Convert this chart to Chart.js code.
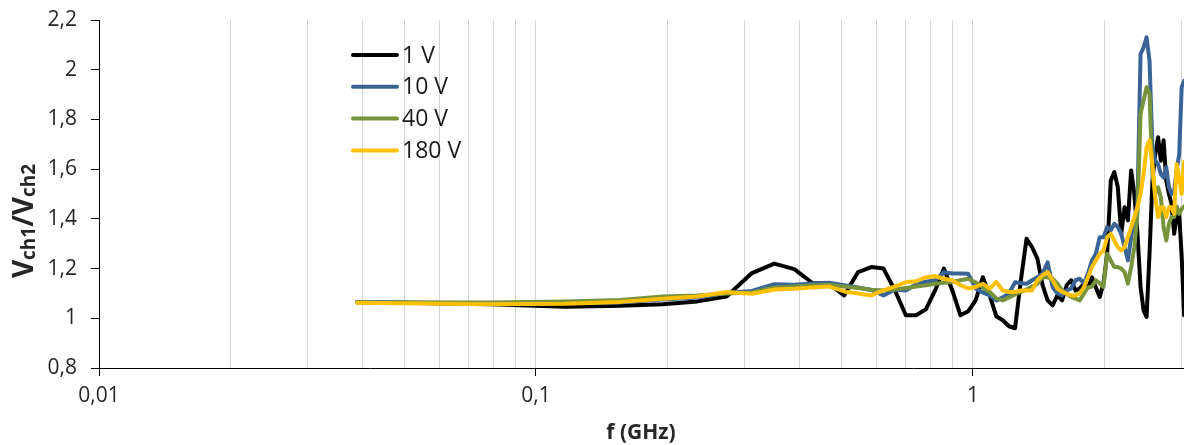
<!DOCTYPE html>
<html>
<head>
<meta charset="utf-8">
<script src="https://cdn.jsdelivr.net/npm/chart.js@4"></script>
<style>
  html, body { margin: 0; padding: 0; background: #fff; }
  #contenedor { width: 1184px; height: 445px; position: relative; }
</style>
</head>
<body>
<div id="contenedor"><canvas id="grafico-relacion"></canvas></div>
<script>
// Frecuencias del barrido (GHz)
const frecuencias = [0.039, 0.078, 0.117, 0.156, 0.195, 0.234, 0.273, 0.312, 0.351, 0.39,
  0.429, 0.468, 0.507, 0.546, 0.585, 0.624, 0.663, 0.702, 0.741, 0.78,
  0.819, 0.858, 0.897, 0.936, 0.975, 1.014, 1.053, 1.092, 1.131, 1.17,
  1.209, 1.248, 1.287, 1.326, 1.365, 1.404, 1.443, 1.482, 1.521, 1.56,
  1.599, 1.638, 1.677, 1.716, 1.755, 1.794, 1.833, 1.872, 1.911, 1.95,
  1.989, 2.028, 2.067, 2.106, 2.145, 2.184, 2.223, 2.262, 2.301, 2.34,
  2.379, 2.418, 2.457, 2.496, 2.535, 2.574, 2.613, 2.652, 2.691, 2.73,
  2.769, 2.808, 2.847, 2.886, 2.925, 2.964, 3.003, 3.042];

// Vch1/Vch2 para cada tension
const rel1V = [1.066, 1.056, 1.046, 1.05, 1.056, 1.068, 1.088, 1.182, 1.22, 1.198,
  1.142, 1.139, 1.092, 1.186, 1.206, 1.2, 1.112, 1.012, 1.012, 1.036,
  1.112, 1.2, 1.112, 1.012, 1.028, 1.072, 1.165, 1.092, 1.008, 0.992,
  0.968, 0.96, 1.153, 1.32, 1.286, 1.24, 1.133, 1.072, 1.052, 1.092,
  1.072, 1.133, 1.153, 1.112, 1.12, 1.14, 1.124, 1.165, 1.124, 1.086,
  1.14, 1.26, 1.554, 1.588, 1.527, 1.34, 1.447, 1.394, 1.595, 1.5,
  1.34, 1.126, 1.032, 1.005, 1.26, 1.554, 1.66, 1.728, 1.634, 1.716,
  1.554, 1.5, 1.46, 1.34, 1.407, 1.42, 1.25, 1.012];
const rel10V = [1.066, 1.06, 1.06, 1.064, 1.076, 1.084, 1.102, 1.11, 1.137, 1.135,
  1.14, 1.143, 1.133, 1.124, 1.114, 1.092, 1.116, 1.112, 1.137, 1.147,
  1.153, 1.185, 1.18, 1.18, 1.179, 1.12, 1.104, 1.092, 1.072, 1.084,
  1.1, 1.145, 1.141, 1.139, 1.153, 1.165, 1.18, 1.225, 1.126, 1.1,
  1.092, 1.112, 1.119, 1.153, 1.159, 1.14, 1.18, 1.233, 1.26, 1.326,
  1.326, 1.367, 1.354, 1.38, 1.367, 1.34, 1.286, 1.233, 1.326, 1.394,
  1.46, 2.063, 2.09, 2.13, 2.036, 1.688, 1.634, 1.62, 1.58, 1.566,
  1.608, 1.527, 1.5, 1.514, 1.595, 1.66, 1.93, 1.955];
const rel40V = [1.064, 1.064, 1.068, 1.074, 1.088, 1.092, 1.1, 1.104, 1.124, 1.128,
  1.133, 1.135, 1.128, 1.122, 1.115, 1.112, 1.116, 1.122, 1.128, 1.133,
  1.139, 1.143, 1.146, 1.153, 1.159, 1.145, 1.124, 1.106, 1.08, 1.072,
  1.084, 1.096, 1.106, 1.116, 1.128, 1.139, 1.166, 1.165, 1.159, 1.139,
  1.112, 1.099, 1.086, 1.079, 1.072, 1.1, 1.124, 1.128, 1.153, 1.141,
  1.126, 1.26, 1.233, 1.206, 1.206, 1.2, 1.186, 1.139, 1.206, 1.286,
  1.42, 1.823, 1.876, 1.93, 1.904, 1.58, 1.5, 1.527, 1.487, 1.367,
  1.313, 1.38, 1.407, 1.407, 1.45, 1.42, 1.44, 1.45];
const rel180V = [1.062, 1.056, 1.058, 1.066, 1.079, 1.088, 1.106, 1.099, 1.116, 1.119,
  1.124, 1.128, 1.108, 1.1, 1.092, 1.112, 1.128, 1.145, 1.149, 1.165,
  1.169, 1.159, 1.153, 1.133, 1.12, 1.126, 1.139, 1.119, 1.146, 1.112,
  1.106, 1.106, 1.112, 1.112, 1.112, 1.153, 1.173, 1.186, 1.153, 1.119,
  1.106, 1.099, 1.092, 1.092, 1.1, 1.124, 1.165, 1.206, 1.233, 1.26,
  1.273, 1.326, 1.34, 1.313, 1.286, 1.273, 1.286, 1.326, 1.367, 1.407,
  1.447, 1.5, 1.58, 1.688, 1.716, 1.62, 1.487, 1.407, 1.447, 1.447,
  1.407, 1.447, 1.447, 1.42, 1.62, 1.567, 1.5, 1.63];

const nombres = ['1 V', '10 V', '40 V', '180 V'];
const colores = ['#000000', '#3A6496', '#77933C', '#FFC000'];

// Lineas de rejilla del eje logaritmico y sus etiquetas
const marcasX = [0.01, 0.02, 0.03, 0.04, 0.05, 0.06, 0.07, 0.08, 0.09,
  0.1, 0.2, 0.3, 0.4, 0.5, 0.6, 0.7, 0.8, 0.9, 1, 2, 3];
const etiquetasX = { 0.01: '0,01', 0.1: '0,1', 1: '1' };

const fuente = '"Open Sans", "DejaVu Sans", sans-serif';

const series = [rel1V, rel10V, rel40V, rel180V];

// Titulos de los ejes y leyenda dentro del grafico
const extras = {
  id: 'extras',
  afterDraw(chart) {
    const ctx = chart.ctx;
    ctx.save();

    // leyenda
    chart.data.datasets.forEach((ds, i) => {
      const y = 55 + i * 31.8;
      ctx.strokeStyle = ds.borderColor;
      ctx.lineWidth = 4;
      ctx.lineCap = 'round';
      ctx.beginPath();
      ctx.moveTo(353, y);
      ctx.lineTo(397, y);
      ctx.stroke();
      ctx.fillStyle = '#1a1a1a';
      ctx.font = '23px ' + fuente;
      ctx.textBaseline = 'middle';
      ctx.textAlign = 'left';
      ctx.fillText(ds.label, 402, y + 1);
    });

    // titulo eje x
    ctx.fillStyle = '#262626';
    ctx.font = 'bold 21px ' + fuente;
    ctx.textAlign = 'center';
    ctx.textBaseline = 'alphabetic';
    ctx.fillText('f (GHz)', 641, 439);

    // titulo eje y con subindices
    const partes = [
      ['V', 'bold 28px ' + fuente, 0],
      ['ch1', 'bold 19px ' + fuente, 2],
      ['/V', 'bold 28px ' + fuente, 0],
      ['ch2', 'bold 19px ' + fuente, 2]
    ];
    let total = 0;
    partes.forEach(p => { ctx.font = p[1]; total += ctx.measureText(p[0]).width; });
    ctx.translate(0, 221);
    ctx.rotate(-Math.PI / 2);
    ctx.textAlign = 'left';
    let x = -total / 2;
    partes.forEach(p => {
      ctx.font = p[1];
      ctx.fillText(p[0], x, 33 + p[2]);
      x += ctx.measureText(p[0]).width;
    });
    ctx.restore();
  }
};

const formatoY = v => String(Math.round(v * 10) / 10).replace('.', ',');

// sin margenes extra alrededor del area del grafico
const sinPadding = scale => {
  scale.paddingTop = 0;
  scale.paddingBottom = 0;
  scale.paddingLeft = 0;
  scale.paddingRight = 0;
};

new Chart(document.getElementById('grafico-relacion').getContext('2d'), {
  type: 'line',
  data: {
    datasets: series.map((s, i) => ({
      label: nombres[i],
      data: frecuencias.map((f, j) => ({ x: f, y: s[j] })),
      borderColor: colores[i],
      backgroundColor: colores[i],
      borderWidth: 4,
      borderJoinStyle: 'round',
      borderCapStyle: 'round',
      pointRadius: 0,
      tension: 0,
      fill: false,
      order: 4 - i
    }))
  },
  options: {
    responsive: true,
    maintainAspectRatio: false,
    animation: false,
    layout: { autoPadding: false, padding: { top: 20, right: 0, bottom: 0, left: 0 } },
    plugins: { legend: { display: false }, tooltip: { enabled: false } },
    scales: {
      x: {
        type: 'logarithmic',
        min: 0.01,
        max: 3.04,
        afterBuildTicks: scale => {
          scale.ticks = marcasX.map(v => ({ value: v, major: etiquetasX[v] !== undefined }));
        },
        afterFit: scale => { scale.height = 77; sinPadding(scale); },
        ticks: {
          autoSkip: false,
          maxRotation: 0,
          padding: 7,
          color: '#262626',
          font: { family: fuente, size: 21 },
          callback: v => etiquetasX[v] ?? ''
        },
        grid: {
          color: '#d4d4d4',
          lineWidth: 1,
          tickLength: 8,
          tickColor: c => (c.tick && c.tick.major) ? '#000' : 'rgba(0,0,0,0)'
        },
        border: { color: '#000', width: 1 }
      },
      y: {
        min: 0.8,
        max: 2.2,
        afterFit: scale => { scale.width = 99; sinPadding(scale); },
        ticks: {
          stepSize: 0.2,
          padding: 14,
          color: '#262626',
          font: { family: fuente, size: 21 },
          callback: v => formatoY(v)
        },
        grid: { drawOnChartArea: false, tickLength: 8, tickColor: '#000' },
        border: { color: '#000', width: 1 }
      }
    }
  },
  plugins: [extras]
});
</script>
</body>
</html>
